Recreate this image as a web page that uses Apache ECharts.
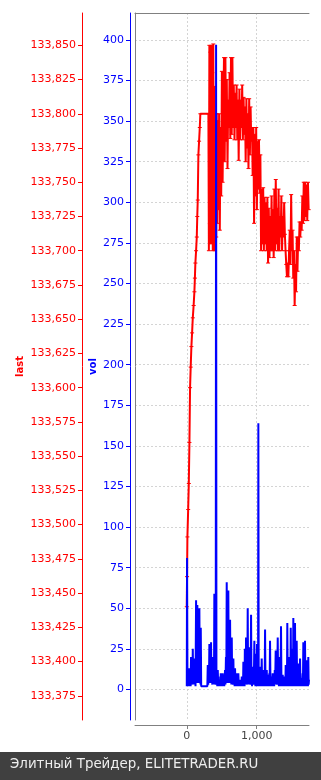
<!DOCTYPE html>
<html><head><meta charset="utf-8">
<script src="https://cdn.jsdelivr.net/npm/echarts@6/dist/echarts.min.js"></script>
<style>html,body{margin:0;padding:0;background:#fff;}#c{width:321px;height:780px;}</style>
</head><body><div id="c"></div>
<script>
// tick labels
const xTicks = [0, 1000];
const volTicks = [0,25,50,75,100,125,150,175,200,225,250,275,300,325,350,375,400];
const lastTicks = [133375,133400,133425,133450,133475,133500,133525,133550,133575,133600,133625,133650,133675,133700,133725,133750,133775,133800,133825,133850];
// axis ranges
const xRange = [-740, 1747];
const volRange = [-18.8, 416.6];
const lastRange = [133357.3, 133873.6];

// series "last": [x, price]
const lastSeries = [
[0,133440],[4,133462],[9,133491],[20,133511],[29,133530],[38,133560],[47,133600],[56,133615],[66,133630],[76,133640],[86,133651],[98,133660],[109,133670],[116,133680],[123,133691],[133,133700],[143,133710],[150,133725],[157,133737],[166,133770],[176,133780],[186,133790],[194,133800],[309,133800],
[316,133700],[323,133850],[330,133720],[337,133845],[344,133705],[351,133850],[358,133760],[365,133830],[372,133700],[379,133851],[386,133740],[393,133820],[400,133700],[407,133800],[414,133790],
[421,133710],[428,133800],[435,133720],[442,133795],[452,133730],[462,133800],[472,133715],[482,133790],[492,133740],[502,133831],[512,133750],[522,133800],[532,133841],[542,133765],[552,133841],[562,133780],[572,133825],[582,133760],[592,133810],[602,133790],[612,133830],[622,133782],[632,133841],[642,133785],[652,133841],[662,133790],[672,133821],[682,133781],[692,133815],[702,133790],[712,133821],[722,133781],[732,133810],[742,133766],[752,133818],[762,133781],[772,133810],[782,133790],[792,133821],[802,133781],[812,133812],[822,133785],[832,133805],[842,133765],[852,133811],[862,133775],[872,133800],[882,133760],[892,133811],[902,133770],[912,133805],[922,133780],[932,133790],[942,133755],[952,133790],[962,133720],[972,133785],[982,133740],[992,133790],
[1002,133730],[1012,133780],[1022,133745],[1032,133781],[1042,133742],[1052,133770],[1062,133700],[1072,133745],[1082,133705],[1092,133746],[1102,133700],[1112,133739],[1122,133705],[1132,133735],[1142,133700],[1152,133739],[1162,133691],[1172,133731],[1182,133695],[1192,133725],[1202,133700],[1212,133740],[1222,133700],[1232,133730],[1242,133695],[1252,133745],[1262,133700],[1272,133752],[1282,133705],[1292,133731],[1302,133700],[1312,133745],[1322,133700],[1332,133725],[1342,133710],[1352,133740],[1362,133700],[1372,133725],[1382,133710],[1392,133735],[1402,133712],[1412,133700],[1422,133690],[1432,133681],[1442,133691],[1452,133681],[1462,133700],[1472,133715],[1482,133690],[1492,133741],[1502,133700],[1512,133715],[1522,133680],[1532,133700],[1542,133660],[1552,133690],[1562,133670],[1572,133710],[1582,133685],[1592,133710],[1602,133700],[1612,133721],[1622,133710],[1632,133721],[1642,133715],[1652,133740],[1662,133720],[1672,133750],[1682,133722],[1692,133750],[1702,133725],[1712,133748],[1722,133722],[1732,133750],[1742,133730]
];

// series "vol": [x, volume]
const volSeries = [
[0,2],[4,81],[10,3],[20,10],[26,2],[37,13],[43,3],[50,8],[55,2],[61,20],[67,4],[75,12],[80,3],[86,25],[92,4],[98,10],[100,3],[104,19],[110,3],[118,8],[125,2],[133,55],[139,6],[145,20],[148,4],[151,52],[157,5],[165,22],[170,4],[180,50],[186,5],[193,15],[196,3],[200,38],[206,2],[214,2],[294,2],
[300,15],[306,3],[312,10],[317,4],[323,28],[329,5],[335,12],[340,4],[347,29],[353,4],[360,10],[365,3],[371,20],[377,4],[385,12],[389,3],[394,59],[400,4],[410,8],[414,3],[419,397],[424,3],[431,8],[436,2],[443,12],[449,3],[455,6],[460,2],[466,4],[472,2],[478,8],[481,2],[486,10],[492,3],[500,7],[506,2],[514,10],[520,3],[530,6],[536,2],[547,12],[553,3],[560,20],[565,4],[571,66],[577,5],[585,25],[590,4],[594,61],[600,5],[608,20],[613,4],[619,43],[625,4],[632,15],[637,3],[643,32],[649,4],[655,10],[660,3],[666,19],[672,3],[680,8],[684,2],[690,13],[696,3],[703,7],[708,2],[714,10],[720,3],[727,6],[731,2],[737,10],[743,3],[750,5],[755,2],[760,6],[766,2],[775,5],[780,2],[786,8],[792,3],[800,6],[804,2],[809,17],[815,3],[822,8],[826,2],[830,25],[836,4],[841,10],[843,3],[847,32],[853,4],[860,12],[865,3],[871,50],[877,4],[883,9],[886,3],[890,26],[896,4],[905,12],[912,3],[919,46],[925,4],[931,8],[933,2],[937,14],[943,3],[952,10],[958,3],[966,30],[972,4],[978,8],[981,2],[986,22],[992,3],[998,7],[1000,2],
[1004,28],[1010,4],[1016,6],[1019,2],[1023,164],[1028,3],[1036,8],[1040,2],[1047,14],[1053,3],[1060,7],[1065,2],[1071,19],[1077,3],[1084,8],[1088,2],[1094,12],[1100,3],[1108,7],[1113,2],[1119,37],[1125,4],[1133,9],[1137,2],[1143,12],[1149,3],[1156,6],[1160,2],[1166,9],[1172,3],[1180,10],[1184,2],[1190,30],[1196,4],[1203,8],[1207,2],[1214,8],[1220,2],[1228,10],[1235,2],[1243,7],[1249,2],[1258,12],[1263,3],[1271,24],[1277,4],[1285,10],[1292,3],[1300,32],[1306,4],[1313,9],[1317,2],[1323,20],[1329,3],[1336,10],[1340,2],[1347,39],[1353,4],[1360,8],[1364,2],[1371,9],[1377,2],[1385,6],[1389,2],[1394,8],[1400,3],[1406,7],[1409,2],[1414,15],[1420,3],[1428,9],[1432,2],[1437,41],[1443,4],[1450,10],[1455,2],[1461,20],[1467,3],[1475,8],[1480,2],[1486,38],[1492,4],[1498,9],[1500,2],[1505,25],[1511,3],[1517,8],[1519,2],[1523,44],[1529,4],[1536,10],[1540,2],[1547,41],[1553,4],[1560,9],[1565,2],[1571,30],[1577,3],[1585,8],[1589,2],[1594,16],[1600,3],[1608,7],[1613,2],[1619,19],[1625,3],[1633,5],[1637,2],[1643,7],[1649,2],[1657,10],[1660,2],[1666,29],[1672,3],[1680,8],[1684,2],[1690,30],[1696,3],[1700,12],[1704,2],[1714,18],[1720,3],[1728,6],[1732,2],[1737,20],[1742,3],[1747,6]
];

const FONT = 'DejaVu Sans';
const commas = v => String(v).replace(/\B(?=(\d{3})+(?!\d))/g, ',');
const gridLine = { show: true, lineStyle: { color: '#d4d4d4', type: [2, 2], width: 1 } };

const chart = echarts.init(document.getElementById('c'), null, { renderer: 'canvas' });
chart.setOption({
  animation: false,
  backgroundColor: '#ffffff',
  grid: { left: 135, right: 12, top: 13, bottom: 60, containLabel: false, show: false },
  xAxis: [
    { type: 'value', position: 'bottom', offset: 5, min: xRange[0], max: xRange[1],
      axisLine: { show: true, onZero: false, lineStyle: { color: '#808080', width: 1 } },
      axisTick: { show: true, length: 4, customValues: xTicks, lineStyle: { color: '#808080' } },
      axisLabel: { customValues: xTicks, formatter: commas, color: '#444444', fontFamily: FONT, fontSize: 11, margin: 6 },
      splitLine: gridLine },
    { type: 'value', position: 'top', offset: 0, min: xRange[0], max: xRange[1],
      axisLine: { show: true, onZero: false, lineStyle: { color: '#808080', width: 1 } },
      axisTick: { show: false }, axisLabel: { show: false }, splitLine: { show: false } }
  ],
  yAxis: [
    { type: 'value', position: 'left', offset: 53, min: lastRange[0], max: lastRange[1],
      name: 'last', nameLocation: 'middle', nameRotate: 90, nameGap: 57, nameMoveOverlap: false,
      nameTextStyle: { color: '#ff0000', fontFamily: FONT, fontSize: 10, fontWeight: 'bold' },
      axisLine: { show: true, onZero: false, lineStyle: { color: '#ff0000', width: 1 } },
      axisTick: { show: true, length: 4, customValues: lastTicks, lineStyle: { color: '#ff0000' } },
      axisLabel: { customValues: lastTicks, formatter: commas, color: '#ff0000', fontFamily: FONT, fontSize: 11, margin: 6 },
      splitLine: { show: false } },
    { type: 'value', position: 'left', offset: 5, min: volRange[0], max: volRange[1],
      name: 'vol', nameLocation: 'middle', nameRotate: 90, nameGap: 32, nameMoveOverlap: false,
      nameTextStyle: { color: '#0000ff', fontFamily: FONT, fontSize: 10, fontWeight: 'bold' },
      axisLine: { show: true, onZero: false, lineStyle: { color: '#0000ff', width: 1 } },
      axisTick: { show: true, length: 4, customValues: volTicks, lineStyle: { color: '#0000ff' } },
      axisLabel: { customValues: volTicks, formatter: commas, color: '#0000ff', fontFamily: FONT, fontSize: 11, margin: 6 },
      splitLine: gridLine },
    { type: 'value', position: 'left', offset: 0, min: 0, max: 1,
      axisLine: { show: true, onZero: false, lineStyle: { color: '#808080', width: 1 } },
      axisTick: { show: false }, axisLabel: { show: false }, splitLine: { show: false } }
  ],
  series: [
    { name: 'last', type: 'line', xAxisIndex: 0, yAxisIndex: 0, data: lastSeries, step: 'end',
      showSymbol: true, showAllSymbol: true, symbol: 'rect', symbolSize: [4, 1],
      itemStyle: { color: '#ff0000' }, lineStyle: { color: '#ff0000', width: 2 }, z: 2 },
    { name: 'vol', type: 'line', xAxisIndex: 0, yAxisIndex: 1, data: volSeries, step: 'end',
      showSymbol: false, lineStyle: { color: '#0000ff', width: 2 }, z: 3 }
  ],
  graphic: [
    { type: 'rect', left: 0, top: 752, shape: { width: 321, height: 28 }, style: { fill: '#404040' }, silent: true },
    { type: 'text', left: 10, top: 758, style: { text: 'Элитный Трейдер, ELITETRADER.RU', fill: '#eeeeee', font: '13.4px "DejaVu Sans"' }, silent: true }
  ]
});
</script></body></html>
